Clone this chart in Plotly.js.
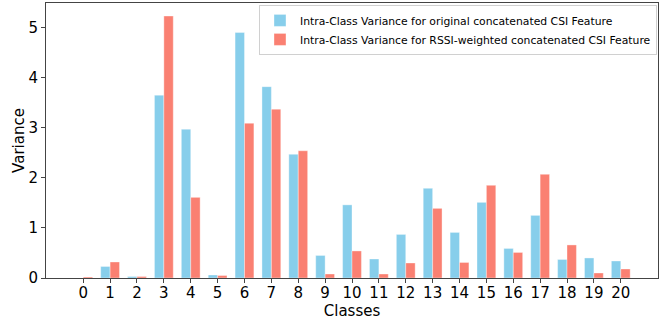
<!DOCTYPE html>
<html><head><meta charset="utf-8">
<script src="https://cdn.plot.ly/plotly-3.0.1.min.js"></script>
<style>html,body{margin:0;padding:0;background:#fff;}#chart{width:670px;height:325px;}</style>
</head><body><div id="chart"></div>
<script>
const classes = [0,1,2,3,4,5,6,7,8,9,10,11,12,13,14,15,16,17,18,19,20];
const originalVar = [0.00,0.23,0.03,3.65,2.97,0.06,4.90,3.82,2.47,0.45,1.46,0.38,0.87,1.79,0.91,1.51,0.59,1.25,0.37,0.40,0.34];
const rssiVar = [0.02,0.32,0.03,5.23,1.61,0.05,3.09,3.37,2.54,0.08,0.54,0.08,0.30,1.39,0.31,1.85,0.51,2.07,0.66,0.10,0.18];
const seriesNames = ['Intra-Class Variance for original concatenated CSI Feature','Intra-Class Variance for RSSI-weighted concatenated CSI Feature'];

const font = 'DejaVu Sans, sans-serif';
const traces = [
  {type:'bar', x:classes, y:originalVar, name:seriesNames[0], marker:{color:'#87CEEB', line:{color:'rgba(255,255,255,0.6)', width:0.6}}},
  {type:'bar', x:classes, y:rssiVar, name:seriesNames[1], marker:{color:'#FA8072', line:{color:'rgba(255,255,255,0.6)', width:0.6}}}
];
const layout = {
  width:670, height:325,
  margin:{l:46, r:12, t:3, b:47},
  paper_bgcolor:'#fff', plot_bgcolor:'#fff',
  barmode:'group', bargap:0.3, bargroupgap:0,
  font:{family:font, color:'#000'},
  xaxis:{range:[-1.385,21.385], tickmode:'array', tickvals:classes, ticktext:classes.map(String),
    showgrid:false, zeroline:false, showline:true, mirror:true, linecolor:'#444', linewidth:1,
    ticks:'outside', ticklen:4, tickcolor:'#444', tickfont:{size:15, family:font}, ticklabelstandoff:-3,
    title:{text:'Classes', font:{size:15, family:font}, standoff:0}},
  yaxis:{range:[0,5.49], tickvals:[0,1,2,3,4,5], showgrid:false, zeroline:false, showline:true, mirror:true,
    linecolor:'#444', linewidth:1, ticks:'outside', ticklen:4, tickcolor:'#444', tickfont:{size:15, family:font},
    title:{text:'Variance', font:{size:15, family:font}, standoff:0}},
  legend:{x:0.348, y:0.993, xanchor:'left', yanchor:'top', bgcolor:'rgba(255,255,255,0.8)',
    bordercolor:'#d0d0d0', borderwidth:1, font:{size:10.8, family:font}, tracegroupgap:0, itemwidth:30},
  showlegend:true
};
Plotly.newPlot('chart', traces, layout, {displayModeBar:false, staticPlot:true});
</script></body></html>
